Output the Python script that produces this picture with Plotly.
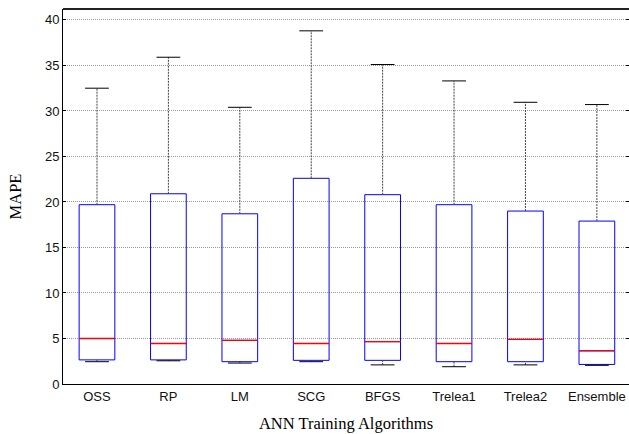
import plotly.graph_objects as go

categories = ["OSS", "RP", "LM", "SCG", "BFGS", "Trelea1", "Trelea2", "Ensemble"]
upper_whisker = [32.5, 35.9, 30.4, 38.8, 35.1, 33.3, 30.95, 30.7]
q3 = [19.7, 20.9, 18.7, 22.6, 20.8, 19.7, 19.0, 17.9]
median = [5.0, 4.45, 4.8, 4.45, 4.65, 4.45, 4.9, 3.65]
q1 = [2.65, 2.65, 2.45, 2.6, 2.6, 2.45, 2.45, 2.15]
lower_whisker = [2.45, 2.55, 2.3, 2.45, 2.1, 1.9, 2.1, 2.05]
y_ticks = [0, 5, 10, 15, 20, 25, 30, 35, 40]

pos = list(range(len(categories)))
box_half = 0.25

fig = go.Figure()

# dashed whisker stems
wx, wy = [], []
for p, lo, a, b, hi in zip(pos, lower_whisker, q1, q3, upper_whisker):
    wx += [p, p, None, p, p, None]
    wy += [b, hi, None, lo, a, None]
fig.add_trace(go.Scatter(x=wx, y=wy, mode="lines", hoverinfo="skip",
                         line=dict(color="#444444", width=1, dash="2px,1px"),
                         showlegend=False))

# whisker caps
fig.add_trace(go.Scatter(x=pos + pos, y=upper_whisker + lower_whisker,
                         mode="markers", hoverinfo="skip", showlegend=False,
                         marker=dict(symbol="line-ew", size=17,
                                     line=dict(color="#000000", width=1))))

# boxes
fig.add_trace(go.Box(x=pos, q1=q1, median=median, q3=q3,
                     lowerfence=q1, upperfence=q3, width=2 * box_half, whiskerwidth=0,
                     line=dict(color="#0000ff", width=1),
                     fillcolor="rgba(0,0,0,0)", showlegend=False,
                     boxpoints=False))

# red medians
mx, my = [], []
for p, m in zip(pos, median):
    mx += [p - box_half, p + box_half, None]
    my += [m, m, None]
fig.add_trace(go.Scatter(x=mx, y=my, mode="lines", hoverinfo="skip",
                         line=dict(color="#ff0000", width=1.3), showlegend=False))

fig.update_layout(
    width=629, height=434,
    margin=dict(l=63, r=0, t=9, b=50),
    paper_bgcolor="white", plot_bgcolor="white",
    boxmode="overlay",
    xaxis=dict(
        range=[-0.476, 7.45], tickvals=pos, ticktext=categories,
        showline=True, linecolor="#000000", linewidth=1, mirror=False,
        ticks="", showgrid=False, zeroline=False,
        tickfont=dict(family="Liberation Sans, Arial", size=13, color="#111111"),
        title=dict(text="ANN Training Algorithms", standoff=14,
                   font=dict(family="Liberation Serif, Times New Roman", size=16.5, color="#000000")),
    ),
    yaxis=dict(
        range=[0, 41.2], tickvals=y_ticks,
        showline=True, linecolor="#000000", linewidth=1, mirror="ticks",
        ticks="inside", ticklen=3, tickcolor="#000000",
        showgrid=True, gridcolor="#999999", griddash="1px,1px", gridwidth=1,
        zeroline=False,
        tickfont=dict(family="Liberation Sans, Arial", size=13, color="#111111"),
        title=dict(text="MAPE", standoff=19,
                   font=dict(family="Liberation Serif, Times New Roman", size=16.5, color="#000000")),
    ),
    shapes=[dict(type="line", xref="paper", yref="paper", x0=0, x1=1, y0=1, y1=1,
                 line=dict(color="#222222", width=2))],
)

fig.write_html("out.html", config={"displayModeBar": False},
               post_script="document.body.style.margin='0';document.body.style.padding='0';")
